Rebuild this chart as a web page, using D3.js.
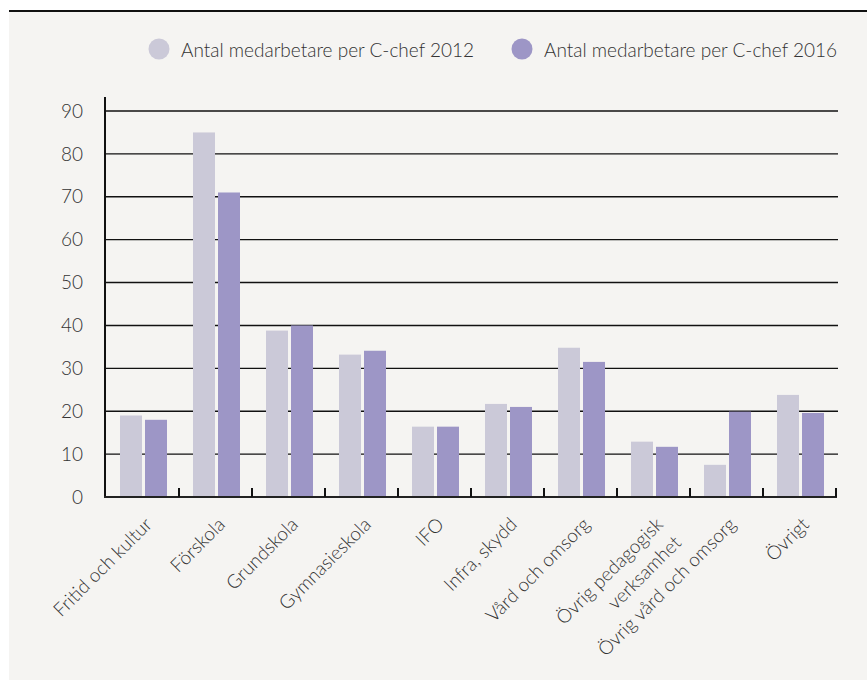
<!DOCTYPE html>
<html lang="en">
<head>
<meta charset="utf-8">
<title>Antal medarbetare per C-chef</title>
<script src="https://d3js.org/d3.v7.min.js"></script>
<style>
body { margin: 0; background: #fff; }
text { font-family: Lato, "Open Sans", sans-serif; font-weight: 300; fill: #333; }
</style>
</head>
<body>
<script>
// data
var categories = ["Fritid och kultur", "Förskola", "Grundskola", "Gymnasieskola", "IFO",
  "Infra, skydd", "Vård och omsorg", "Övrig pedagogisk\nverksamhet", "Övrig vård och omsorg", "Övrigt"];
var values2012 = [19, 85, 38.8, 33.2, 16.4, 21.7, 34.8, 12.9, 7.5, 23.8];
var values2016 = [18, 71, 40, 34.1, 16.4, 21, 31.5, 11.7, 19.9, 19.6];
var seriesNames = ["Antal medarbetare per C-chef 2012", "Antal medarbetare per C-chef 2016"];
var seriesColors = ["#cbc9d8", "#9d96c6"];
var yTicks = [0, 10, 20, 30, 40, 50, 60, 70, 80, 90];

var w = 867, h = 680;

var svg = d3.select("body").append("svg")
  .attr("width", w)
  .attr("height", h);

// background panel + top rule
svg.append("rect").attr("x", 9).attr("y", 11).attr("width", w - 9).attr("height", h - 11).attr("fill", "#f5f4f2");
svg.append("line").attr("x1", 9).attr("x2", w).attr("y1", 11).attr("y2", 11)
  .attr("stroke", "#111").attr("stroke-width", 2);

var m = {left: 106, right: 836, top: 111, bottom: 497};

var x = d3.scaleBand().domain(categories).range([m.left, m.right]);
var y = d3.scaleLinear().domain([0, 90]).range([m.bottom, m.top]);
var barW = 22, gap = 3;

// gridlines
svg.append("g").selectAll("line")
  .data(yTicks.slice(1))
  .enter().append("line")
  .attr("x1", m.left).attr("x2", 838)
  .attr("y1", function(d) { return y(d); })
  .attr("y2", function(d) { return y(d); })
  .attr("stroke", "#111").attr("stroke-width", 1.4);

// y labels
svg.append("g").selectAll("text")
  .data(yTicks)
  .enter().append("text")
  .attr("x", 83)
  .attr("y", function(d) { return y(d); })
  .attr("dy", "0.35em")
  .attr("text-anchor", "end")
  .style("font-size", "19px")
  .text(function(d) { return d; });

// bars
var series = [values2012, values2016];
series.forEach(function(vals, s) {
  svg.append("g").selectAll("rect")
    .data(vals)
    .enter().append("rect")
    .attr("x", function(d, i) {
      return x(categories[i]) + (x.bandwidth() - 2 * barW - gap) / 2 + 1 + s * (barW + gap);
    })
    .attr("y", function(d) { return y(d); })
    .attr("width", barW)
    .attr("height", function(d) { return m.bottom - y(d); })
    .attr("fill", seriesColors[s]);
});

// axes lines
svg.append("line").attr("x1", m.left - 1).attr("x2", m.left - 1).attr("y1", 97).attr("y2", m.bottom + 1)
  .attr("stroke", "#111").attr("stroke-width", 2);
svg.append("line").attr("x1", m.left - 2).attr("x2", m.right + 1).attr("y1", m.bottom).attr("y2", m.bottom)
  .attr("stroke", "#222").attr("stroke-width", 2);

// x tick marks at band edges
svg.append("g").selectAll("line")
  .data(categories)
  .enter().append("line")
  .attr("x1", function(d) { return x(d) + x.bandwidth(); })
  .attr("x2", function(d) { return x(d) + x.bandwidth(); })
  .attr("y1", m.bottom - 9).attr("y2", m.bottom)
  .attr("stroke", "#111").attr("stroke-width", 2);

// x labels rotated
var xl = svg.append("g").selectAll("text")
  .data(categories)
  .enter().append("text")
  .attr("text-anchor", "end")
  .style("font-size", "19px")
  .attr("transform", function(d) {
    return "translate(" + (x(d) + x.bandwidth() / 2 + 6) + "," + (m.bottom + 24) + ") rotate(-45)";
  });
xl.each(function(d) {
  var lines = d.split("\n");
  var t = d3.select(this);
  lines.forEach(function(line, k) {
    t.append("tspan").attr("x", 0).attr("dy", k === 0 ? "0.35em" : "1.35em").text(line);
  });
});

// legend
var legX = [159, 522];
seriesNames.forEach(function(name, s) {
  svg.append("circle").attr("cx", legX[s]).attr("cy", 49).attr("r", 10.5).attr("fill", seriesColors[s]);
  svg.append("text").attr("x", legX[s] + 22).attr("y", 50).attr("dy", "0.35em")
    .style("font-size", "19px").text(name);
});
</script>
</body>
</html>
